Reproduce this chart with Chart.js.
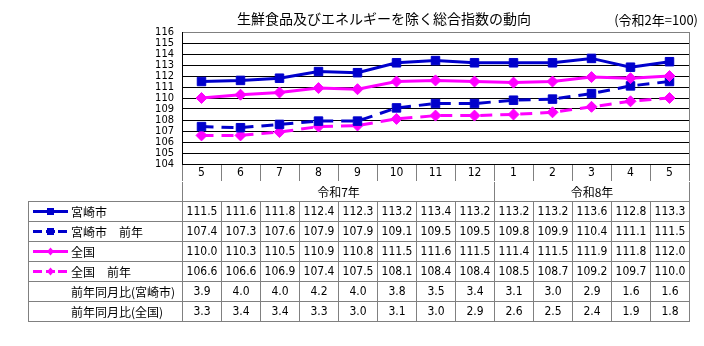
<!DOCTYPE html>
<html><head><meta charset="utf-8">
<script src="https://cdn.jsdelivr.net/npm/chart.js@4/dist/chart.umd.min.js"></script>
<style>
html,body{margin:0;padding:0;background:#fff;}
#wrap{position:relative;width:704px;height:346px;overflow:hidden;font-family:'Noto Sans CJK JP',sans-serif;color:#000;background:#fff;}
#cv{position:absolute;left:0;top:0;}
.t{position:absolute;white-space:pre;}
#title{left:237px;top:10px;font-size:14px;line-height:16px;}
#unit{right:6px;top:12px;font-size:13px;line-height:15px;}
.cell{position:absolute;box-sizing:border-box;border:1px solid #808080;font-size:12px;text-align:center;white-space:pre;overflow:hidden;}
.num{font-family:'Liberation Sans Narrow','DejaVu Sans Condensed','Liberation Sans',sans-serif;}
.lab{text-align:left;}
.lab svg{position:absolute;left:3px;top:4px;}
</style></head>
<body><div id="wrap"><canvas id="cv" width="704" height="346"></canvas>
<div class="t" id="title">生鮮食品及びエネルギーを除く総合指数の動向</div>
<div class="t" id="unit">(令和2年=100)</div>
</div>
<script>
// ---- data ----
const months = ['5','6','7','8','9','10','11','12','1','2','3','4','5'];
const eraLabels = ['令和7年','令和8年'];
const eraMonthCounts = [8, 5];
const yTickMin = 104;
const yTickMax = 116;
const miyazaki = [111.5,111.6,111.8,112.4,112.3,113.2,113.4,113.2,113.2,113.2,113.6,112.8,113.3];
const miyazakiPrev = [107.4,107.3,107.6,107.9,107.9,109.1,109.5,109.5,109.8,109.9,110.4,111.1,111.5];
const national = [110.0,110.3,110.5,110.9,110.8,111.5,111.6,111.5,111.4,111.5,111.9,111.8,112.0];
const nationalPrev = [106.6,106.6,106.9,107.4,107.5,108.1,108.4,108.4,108.5,108.7,109.2,109.7,110.0];
const yoyMiyazaki = [3.9,4.0,4.0,4.2,4.0,3.8,3.5,3.4,3.1,3.0,2.9,1.6,1.6];
const yoyNational = [3.3,3.4,3.4,3.3,3.0,3.1,3.0,2.9,2.6,2.5,2.4,1.9,1.8];
const seriesNames = ['宮崎市','宮崎市　前年','全国','全国　前年'];
const yoyNames = ['前年同月比(宮崎市)','前年同月比(全国)'];

// ---- styles ----
const BLUE = '#0000CC';
const MAGENTA = '#FF00FF';
const GRAY = '#808080';
const tickFont = {family:"'Liberation Sans Narrow','DejaVu Sans Condensed','Liberation Sans',sans-serif", size:12};
const yTickFont = {family:"'Liberation Sans Narrow','DejaVu Sans Condensed','Liberation Sans',sans-serif", size:11};

const frame = {
  id:'frame',
  afterDraw(chart){
    const {ctx, chartArea:a} = chart;
    ctx.save();
    ctx.strokeStyle = GRAY; ctx.lineWidth = 1;
    const x = Math.round(a.right) + 0.5;
    ctx.beginPath(); ctx.moveTo(x, a.top); ctx.lineTo(x, a.bottom); ctx.stroke();
    ctx.restore();
  }
};

function ds(label, data, color, style, radius, dashed){
  return {label, data, borderColor:color, backgroundColor:color, borderWidth:3,
    borderDash: dashed ? [12,8] : [], pointStyle:style, pointRadius:radius,
    pointBorderColor:color, pointBackgroundColor:color, pointBorderWidth:1,
    tension:0, fill:false, clip:false};
}

const chart = new Chart(document.getElementById('cv'), {
  type:'line',
  data:{labels:months, datasets:[
    ds(seriesNames[0], miyazaki, BLUE, 'rect', 6, false),
    ds(seriesNames[2], national, MAGENTA, 'rectRot', 5.5, false),
    ds(seriesNames[1], miyazakiPrev, BLUE, 'rect', 6, true),
    ds(seriesNames[3], nationalPrev, MAGENTA, 'rectRot', 5.5, true)
  ]},
  options:{
    responsive:false, animation:false, devicePixelRatio:1,
    layout:{autoPadding:false, padding:{left:152, right:15, top:32, bottom:164}},
    plugins:{legend:{display:false}, tooltip:{enabled:false}},
    scales:{
      x:{type:'category', offset:true,
        grid:{offset:true, drawOnChartArea:false, drawTicks:true, tickLength:17, color:GRAY, lineWidth:1},
        border:{display:true, color:'#000', width:1},
        ticks:{padding:-15, color:'#000', font:tickFont, maxRotation:0, autoSkip:false},
        afterFit(s){ s.height = 18; }
      },
      y:{min:yTickMin, max:yTickMax,
        ticks:{stepSize:1, autoSkip:false, padding:8, color:'#000', font:yTickFont},
        grid:{drawTicks:false, lineWidth:1, color:(c)=> (c.tick && c.tick.value===yTickMax) ? GRAY : '#000'},
        border:{display:true, color:'#000', width:1},
        afterFit(s){ s.width = 30; }
      }
    }
  },
  plugins:[frame]
});

// ---- table built from the chart's x scale ----
const wrap = document.getElementById('wrap');
const xs = chart.scales.x;
const area = chart.chartArea;
const band = xs.getPixelForValue(1) - xs.getPixelForValue(0);
const edges = months.map((m,i)=>Math.round(xs.getPixelForValue(i) - band/2));
edges.push(Math.round(xs.getPixelForValue(months.length-1) + band/2));
const tickRowH = 18, eraRowH = 19, rowH = 20, tableLeft = 28;
const eraTop = Math.round(area.bottom) + tickRowH;
const tableTop = eraTop + eraRowH;

function cell(left, top, w, h, html, cls, style){
  const d = document.createElement('div');
  d.className = 'cell ' + (cls||'');
  d.style.left = left+'px'; d.style.top = top+'px';
  d.style.width = w+'px'; d.style.height = h+'px';
  d.style.lineHeight = (h-2)+'px';
  if (style) Object.assign(d.style, style);
  d.innerHTML = html;
  wrap.appendChild(d);
  return d;
}

// era row
let idx = 0;
eraLabels.forEach((lab,i)=>{
  const l = edges[idx], r = edges[idx+eraMonthCounts[i]];
  cell(l, eraTop, r-l+1, eraRowH+1, lab, '', {borderTop:'none', borderBottom:'none', lineHeight:(eraRowH+1)+'px'});
  idx += eraMonthCounts[i];
});

function icon(color, marker, dashed){
  const m = marker==='rect'
    ? `<rect x="15" y="2" width="7" height="7" fill="${color}"/>`
    : `<polygon points="18.5,1.5 22,5.5 18.5,9.5 15,5.5" fill="${color}"/>`;
  const line = dashed
    ? `<line x1="1" y1="5.5" x2="10" y2="5.5" stroke="${color}" stroke-width="3"/><line x1="26" y1="5.5" x2="35" y2="5.5" stroke="${color}" stroke-width="3"/><line x1="14" y1="5.5" x2="23" y2="5.5" stroke="${color}" stroke-width="3"/>`
    : `<line x1="1" y1="5.5" x2="36" y2="5.5" stroke="${color}" stroke-width="3"/>`;
  return `<svg width="37" height="11" viewBox="0 0 37 11">${line}${m}</svg>`;
}

const rows = [
  {name:seriesNames[0], vals:miyazaki, ic:icon(BLUE,'rect',false)},
  {name:seriesNames[1], vals:miyazakiPrev, ic:icon(BLUE,'rect',true)},
  {name:seriesNames[2], vals:national, ic:icon(MAGENTA,'diamond',false)},
  {name:seriesNames[3], vals:nationalPrev, ic:icon(MAGENTA,'diamond',true)},
  {name:yoyNames[0], vals:yoyMiyazaki, ic:''},
  {name:yoyNames[1], vals:yoyNational, ic:''}
];
rows.forEach((row,r)=>{
  const top = tableTop + r*rowH;
  cell(tableLeft, top, edges[0]-tableLeft+1, rowH+1, row.ic + '<span>'+row.name+'</span>', 'lab', {paddingLeft:'42px'});
  row.vals.forEach((v,c)=>{
    cell(edges[c], top, edges[c+1]-edges[c]+1, rowH+1, v.toFixed(1), 'num');
  });
});
</script>
</body></html>
